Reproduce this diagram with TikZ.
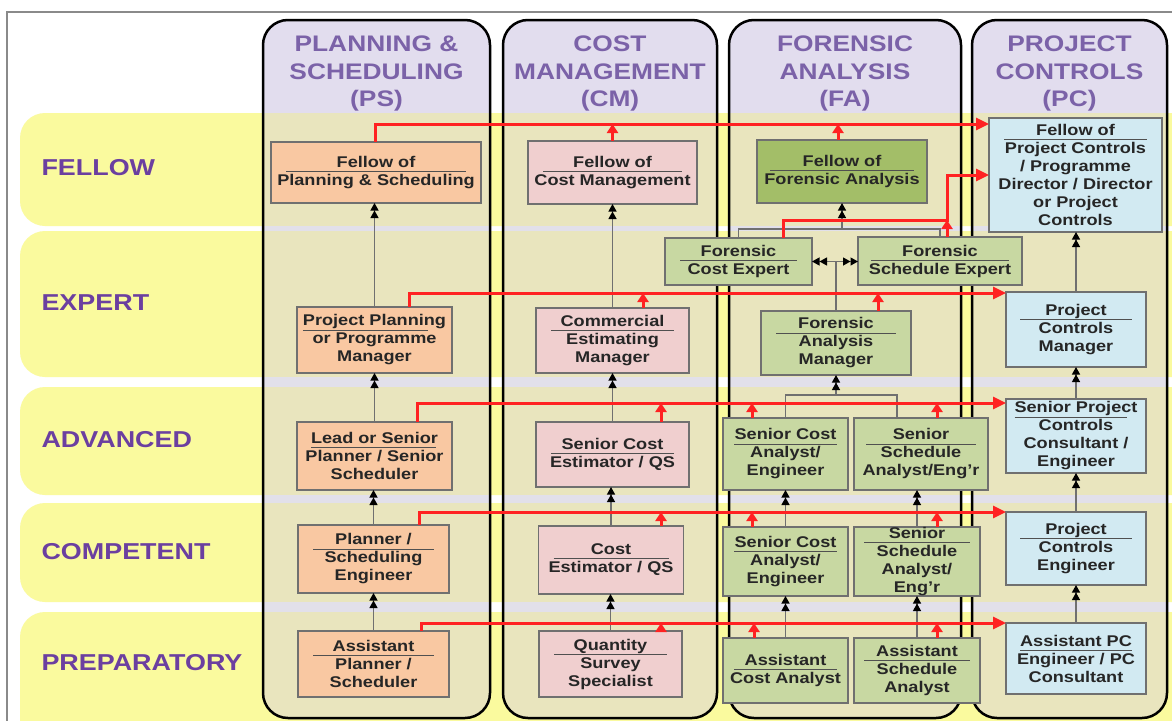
\documentclass[tikz,border=0pt]{standalone}
\usepackage{fontspec}
\setmainfont{Liberation Sans}[FakeStretch=1.17]
\usetikzlibrary{arrows.meta}
\definecolor{bandy}{HTML}{FAFA9E}
\definecolor{khaki}{HTML}{E9E5BE}
\definecolor{lav}{HTML}{E2DDEE}
\definecolor{gapc}{HTML}{E2E0EA}
\definecolor{hdtxt}{HTML}{7B62A8}
\definecolor{rowtxt}{HTML}{6B3FA0}
\definecolor{psfill}{HTML}{F9C8A2}
\definecolor{cmfill}{HTML}{F0CFCF}
\definecolor{fafill}{HTML}{C8D8A2}
\definecolor{faffill}{HTML}{A3BE68}
\definecolor{pcfill}{HTML}{D2EAF2}
\definecolor{boxline}{HTML}{707070}
\definecolor{rulec}{HTML}{505050}
\definecolor{conn}{HTML}{707070}
\definecolor{redl}{HTML}{FF2222}
\definecolor{framec}{HTML}{8A8A8A}
\newcommand\hd[2]{\ooalign{\hfil#2\hfil\cr\smash{\raisebox{-4.5pt}{\textcolor{rulec}{\rule{#1}{0.9pt}}}}\cr}}
\tikzset{
  jobbox/.style={draw=boxline, line width=1.1pt, inner sep=0pt, outer sep=0pt, align=center,
    text=black!85, font=\fontsize{15.5}{18}\selectfont\bfseries},
  psbox/.style={jobbox, fill=psfill},
  cmbox/.style={jobbox, fill=cmfill},
  fabox/.style={jobbox, fill=fafill},
  fafbox/.style={jobbox, fill=faffill},
  pcbox/.style={jobbox, fill=pcfill},
  hdr/.style={align=center, text=hdtxt, font=\fontsize{22.5}{27.5}\selectfont\bfseries},
  rowlab/.style={anchor=west, text=rowtxt, font=\fontsize{23}{27}\selectfont\bfseries},
  gline/.style={draw=conn, line width=1.2pt},
  dbltip/.tip={Triangle[length=7.5pt,width=8pt,color=black]Triangle[length=7.5pt,width=8pt,color=black]},
  dbl/.style={gline, -dbltip},
  dblboth/.style={gline, dbltip-dbltip},
  redline/.style={draw=redl, line width=3pt, -{Triangle[length=13pt,width=12pt]}},
  redup/.style={draw=redl, line width=3pt, -{Triangle[length=9pt,width=11pt]}},
  colframe/.style={draw=black, line width=2.5pt, rounded corners=25pt},
}
\begin{document}
\begin{tikzpicture}[x=1pt,y=-1pt]
\useasboundingbox (0,0) rectangle (1172,720);
\fill[white] (0,0) rectangle (1172,720);
% frame
\draw[framec, line width=1.5pt] (7,740) -- (7,12) -- (1190,12);
% bands
\foreach \ya/\yb in {113/226, 231/377, 387/495, 503/602, 612/760}
  \fill[bandy, rounded corners=25pt] (20,\ya) rectangle (1220,\yb);
% columns
\foreach \xa/\xb in {263/490, 503/717, 729/961, 972/1167}{
  \begin{scope}
    \clip[rounded corners=25pt] (\xa,20) rectangle (\xb,718);
    \fill[lav] (\xa,20) rectangle (\xb,718);
    \fill[gapc] (\xa,113) rectangle (\xb,718);
    \foreach \ya/\yb in {113/226, 231/377, 387/495, 503/602, 612/760}
      \fill[khaki] (\xa,\ya) rectangle (\xb,\yb);
  \end{scope}
  \draw[colframe] (\xa,20) rectangle (\xb,718);
}
% headers
\node[hdr] (hPS) at (376.5,73.5) {PLANNING \&\\SCHEDULING\\(PS)};
\node[hdr] (hCM) at (610,73.5) {COST\\MANAGEMENT\\(CM)};
\node[hdr] (hFA) at (845,73.5) {FORENSIC\\ANALYSIS\\(FA)};
\node[hdr] (hPC) at (1069.5,73.5) {PROJECT\\CONTROLS\\(PC)};
% row labels
\node[rowlab] (lF) at (38,168) {FELLOW};
\node[rowlab] (lE) at (38,303) {EXPERT};
\node[rowlab] (lA) at (38,440) {ADVANCED};
\node[rowlab] (lC) at (38,552) {COMPETENT};
\node[rowlab] (lP) at (38,663) {PREPARATORY};
% PS boxes
\node[psbox, minimum width=210pt, minimum height=61pt] (psF) at (376,172.5) {\hd{180pt}{Fellow of}\\Planning \& Scheduling};
\node[psbox, minimum width=155pt, minimum height=66pt] (psE) at (374.5,340) {\hd{125pt}{Project Planning}\\or Programme\\Manager};
\node[psbox, minimum width=155pt, minimum height=68pt] (psA) at (374.5,456) {\hd{125pt}{Lead or Senior}\\Planner / Senior\\Scheduler};
\node[psbox, minimum width=151pt, minimum height=68pt] (psC) at (373.5,559) {\hd{121pt}{Planner /}\\Scheduling\\Engineer};
\node[psbox, minimum width=151pt, minimum height=66pt] (psP) at (373.5,664) {\hd{121pt}{Assistant}\\Planner /\\Scheduler};
% CM boxes
\node[cmbox, minimum width=169pt, minimum height=63pt] (cmF) at (612.5,172.5) {\hd{139pt}{Fellow of}\\Cost Management};
\node[cmbox, minimum width=153pt, minimum height=65pt] (cmE) at (612.5,340.5) {\hd{123pt}{Commercial}\\Estimating\\Manager};
\node[cmbox, minimum width=153pt, minimum height=65pt] (cmA) at (612.5,454.5) {\hd{123pt}{Senior Cost}\\Estimator / QS};
\node[cmbox, minimum width=145pt, minimum height=68pt] (cmC) at (611,560) {\hd{115pt}{Cost}\\Estimator / QS};
\node[cmbox, minimum width=143pt, minimum height=66pt] (cmP) at (610.5,664) {\hd{113pt}{Quantity}\\Survey\\Specialist};
% FA boxes
\node[fafbox, minimum width=170pt, minimum height=63pt] (faF) at (842,171.5) {\hd{144pt}{Fellow of}\\Forensic Analysis};
\node[fabox, minimum width=147pt, minimum height=47pt] (faCE) at (738.5,261.5) {\hd{117pt}{Forensic}\\Cost Expert};
\node[fabox, minimum width=164pt, minimum height=48pt] (faSE) at (940,261) {\hd{138pt}{Forensic}\\Schedule Expert};
\node[fabox, minimum width=150pt, minimum height=64pt] (faM) at (836,343) {\hd{120pt}{Forensic}\\Analysis\\Manager};
\node[fabox, minimum width=125pt, minimum height=72pt] (faA1) at (785.5,454) {\hd{103pt}{Senior Cost}\\Analyst/\\Engineer};
\node[fabox, minimum width=134pt, minimum height=72pt] (faA2) at (921,454) {\hd{110pt}{Senior}\\Schedule\\Analyst/Eng'r};
\node[fabox, minimum width=125pt, minimum height=69pt] (faC1) at (785.5,561.5) {\hd{103pt}{Senior Cost}\\Analyst/\\Engineer};
\node[fabox, minimum width=126pt, minimum height=69pt] (faC2) at (917,561.5) {\hd{106pt}{Senior}\\Schedule\\Analyst/\\Eng'r};
\node[fabox, minimum width=125pt, minimum height=65pt] (faP1) at (785.5,670.5) {\hd{103pt}{Assistant}\\Cost Analyst};
\node[fabox, minimum width=126pt, minimum height=65pt] (faP2) at (917,670.5) {\hd{106pt}{Assistant}\\Schedule\\Analyst};
% PC boxes
\node[pcbox, minimum width=173pt, minimum height=114pt] (pcF) at (1075.5,175) {\hd{143pt}{Fellow of}\\Project Controls\\/ Programme\\Director / Director\\or Project\\Controls};
\node[pcbox, minimum width=140pt, minimum height=75pt] (pcE) at (1076,329.5) {\hd{112pt}{Project}\\Controls\\Manager};
\node[pcbox, minimum width=140pt, minimum height=74pt] (pcA) at (1076,436) {\hd{112pt}{Senior Project}\\Controls\\Consultant /\\Engineer};
\node[pcbox, minimum width=140pt, minimum height=73pt] (pcC) at (1076,548.5) {\hd{112pt}{Project}\\Controls\\Engineer};
\node[pcbox, minimum width=140pt, minimum height=71pt] (pcP) at (1076,658.5) {\hd{112pt}{Assistant PC}\\Engineer / PC\\Consultant};
% grey progression connectors
\draw[dbl] (psE.north) -- (psE.north |- psF.south);
\draw[dbl] (psA.north) -- (psA.north |- psE.south);
\draw[dbl] (psC.north) -- (psC.north |- psA.south);
\draw[dbl] (psP.north) -- (psP.north |- psC.south);
\draw[dbl] (cmE.north) -- (cmE.north |- cmF.south);
\draw[dbl] (cmA.north) -- (cmA.north |- cmE.south);
\draw[dbl] (cmC.north) -- (cmC.north |- cmA.south);
\draw[dbl] (cmP.north) -- (cmP.north |- cmC.south);
\draw[dbl] (pcE.north) -- (pcE.north |- pcF.south);
\draw[dbl] (pcA.north) -- (pcA.north |- pcE.south);
\draw[dbl] (pcC.north) -- (pcC.north |- pcA.south);
\draw[dbl] (pcP.north) -- (pcP.north |- pcC.south);
\draw[dbl] (faP1.north) -- (faP1.north |- faC1.south);
\draw[dbl] (faC1.north) -- (faC1.north |- faA1.south);
\draw[dbl] (faP2.north) -- (faP2.north |- faC2.south);
\draw[dbl] (faC2.north) -- (faC2.north |- faA2.south);
\coordinate (jA) at (0,395);
\coordinate (a2j) at ([xshift=-24pt]faA2.north);
\draw[gline] (faA1.north) |- (a2j |- jA) -- (a2j);
\draw[dbl] (faM.south |- jA) -- (faM.south);
\draw[gline] (faM.north) -- (faM.north |- faCE.east);
\draw[dblboth] (faCE.east) -- (faSE.west |- faCE.east);
\coordinate (jE) at (0,229);
\draw[gline] (faCE.north) |- (faSE.north |- jE) -- (faSE.north);
\draw[dbl] (faF.south |- jE) -- (faF.south);
% red lines
\coordinate (yF) at (0,124);
\coordinate (yF2) at (0,175);
\coordinate (yX) at (0,220);
\coordinate (yE) at (0,293);
\coordinate (yA) at (0,403);
\coordinate (yC) at (0,512);
\coordinate (yP) at (0,623);
\coordinate (psFr) at ([xshift=-1pt]psF.north);
\draw[redline] (psFr) |- (pcF.west |- yF);
\draw[redup] (cmF.north) -- (cmF.north |- yF);
\coordinate (faFr) at ([xshift=-4pt]faF.north);
\draw[redup] (faFr) -- (faFr |- yF);
\coordinate (ceR) at ([xshift=44.5pt]faCE.north);
\coordinate (seR) at ([xshift=7pt]faSE.north);
\draw[redline] (ceR) |- (seR |- yX) |- (pcF.west |- yF2);
\draw[redup] (seR) -- (seR |- yX);
% expert
\coordinate (psEr) at ([xshift=34.5pt]psE.north);
\draw[redline] (psEr) |- (pcE.west |- yE);
\coordinate (cmEr) at ([xshift=30.5pt]cmE.north);
\draw[redup] (cmEr) -- (cmEr |- yE);
\coordinate (faMr) at ([xshift=42pt]faM.north);
\draw[redup] (faMr) -- (faMr |- yE);
% advanced
\coordinate (psAr) at ([xshift=42.5pt]psA.north);
\draw[redline] (psAr) |- (pcA.west |- yA);
\coordinate (cmAr) at ([xshift=48.5pt]cmA.north);
\draw[redup] (cmAr) -- (cmAr |- yA);
\coordinate (fa1Ar) at ([xshift=-33.5pt]faA1.north);
\draw[redup] (fa1Ar) -- (fa1Ar |- yA);
\coordinate (fa2Ar) at ([xshift=16pt]faA2.north);
\draw[redup] (fa2Ar) -- (fa2Ar |- yA);
% competent
\coordinate (psCr) at ([xshift=45.5pt]psC.north);
\draw[redline] (psCr) |- (pcC.west |- yC);
\coordinate (cmCr) at ([xshift=50pt]cmC.north);
\draw[redup] (cmCr) -- (cmCr |- yC);
\coordinate (fa1Cr) at ([xshift=-33.5pt]faC1.north);
\draw[redup] (fa1Cr) -- (fa1Cr |- yC);
\coordinate (fa2Cr) at ([xshift=20pt]faC2.north);
\draw[redup] (fa2Cr) -- (fa2Cr |- yC);
% preparatory
\coordinate (psPr) at ([xshift=47.5pt]psP.north);
\draw[redline] (psPr) |- (pcP.west |- yP);
\coordinate (cmPr) at ([xshift=50.5pt]cmP.north);
\draw[redup] (cmPr) -- (cmPr |- yP);
\coordinate (fa1Pr) at ([xshift=-31.5pt]faP1.north);
\draw[redup] (fa1Pr) -- (fa1Pr |- yP);
\coordinate (fa2Pr) at ([xshift=20pt]faP2.north);
\draw[redup] (fa2Pr) -- (fa2Pr |- yP);
\end{tikzpicture}
\end{document}
